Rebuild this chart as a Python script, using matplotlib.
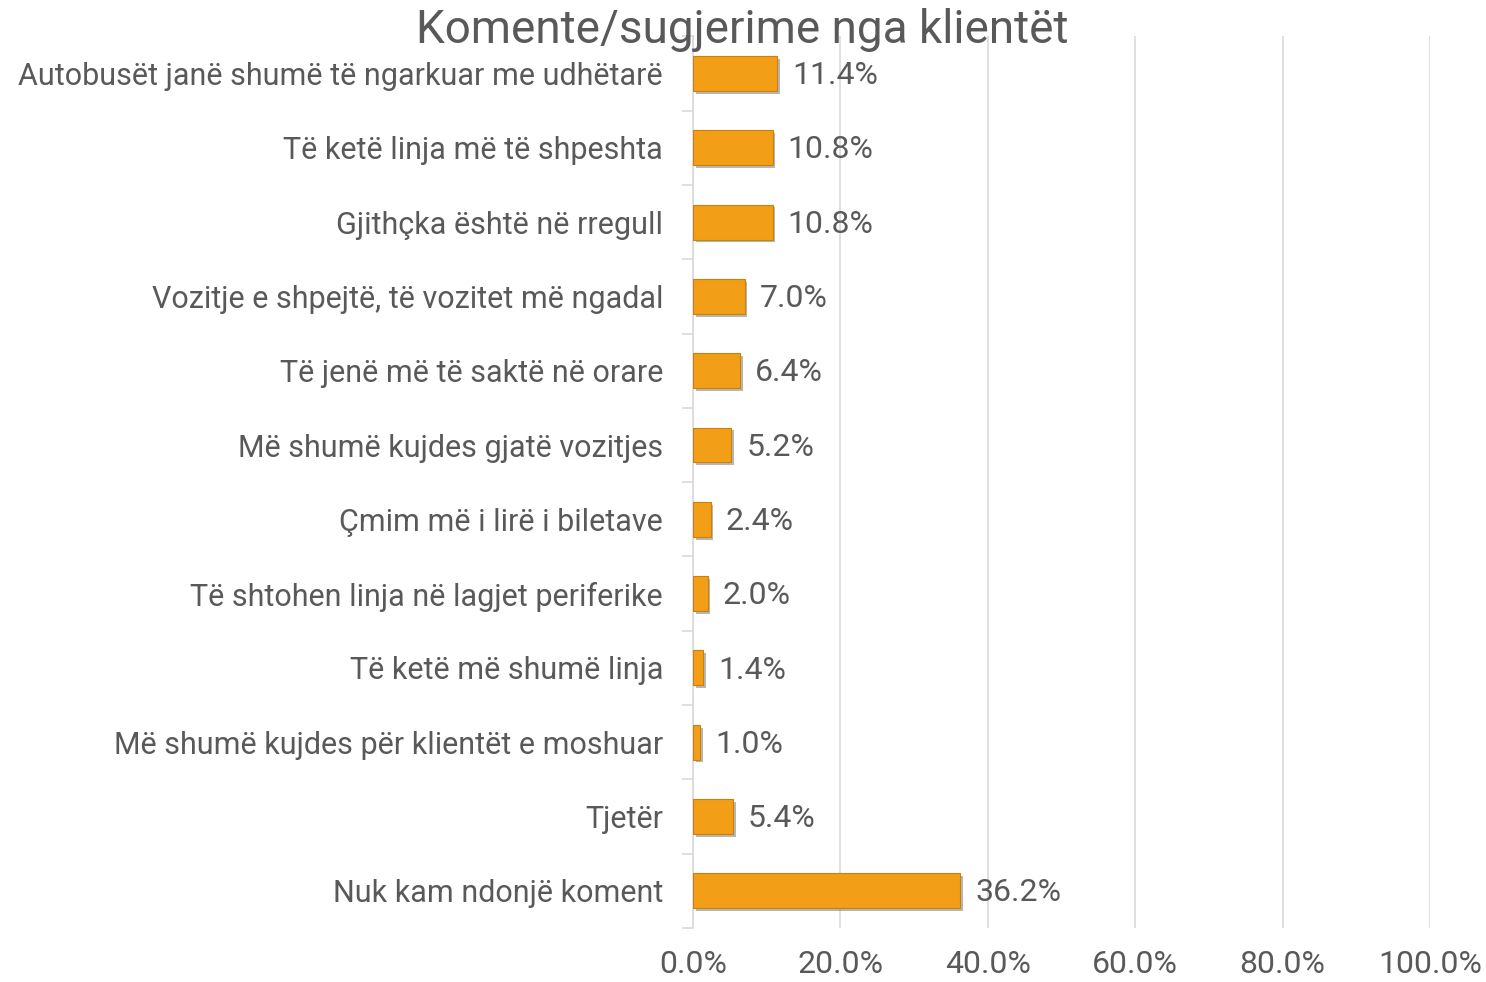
import matplotlib
matplotlib.use("Agg")
import matplotlib.pyplot as plt
import matplotlib.patheffects as pe
from matplotlib.ticker import FuncFormatter, FixedLocator

# data (top to bottom as in the chart)
categories = [
    "Autobusët janë shumë të ngarkuar me udhëtarë",
    "Të ketë linja më të shpeshta",
    "Gjithçka është në rregull",
    "Vozitje e shpejtë, të vozitet më ngadal",
    "Të jenë më të saktë në orare",
    "Më shumë kujdes gjatë vozitjes",
    "Çmim më i lirë i biletave",
    "Të shtohen linja në lagjet periferike",
    "Të ketë më shumë linja",
    "Më shumë kujdes për klientët e moshuar",
    "Tjetër",
    "Nuk kam ndonjë koment",
]
values = [11.4, 10.8, 10.8, 7.0, 6.4, 5.2, 2.4, 2.0, 1.4, 1.0, 5.4, 36.2]
title = "Komente/sugjerime nga klientët"

plt.rcParams['font.family'] = ['Roboto', 'DejaVu Sans']
text_col = '#595959'

fig = plt.figure(figsize=(14.86, 9.82), dpi=100)
ax = fig.add_axes([0.4663, 0.055, 0.496, 0.908])

ypos = list(range(len(categories)))
bars = ax.barh(ypos, values, height=0.47, color='#F29F17', edgecolor='#C9800F', linewidth=0.8,
               zorder=3)
for b in bars:
    b.set_path_effects([pe.SimplePatchShadow(offset=(2, -2), shadow_rgbFace='#888888', alpha=0.6),
                        pe.Normal()])

for y, v in zip(ypos, values):
    ax.annotate(f"{v:.1f}%", (v, y), xytext=(11, -1.5), textcoords='offset points',
                va='center', ha='left', fontsize=23, color=text_col)

ax.set_xlim(0, 100)
ax.set_ylim(len(categories) - 0.5, -0.5)
ax.set_xticks([0, 20, 40, 60, 80, 100])
ax.xaxis.set_major_formatter(FuncFormatter(lambda x, p: f"{x:.1f}%"))
ax.tick_params(axis='x', length=0, labelsize=23, labelcolor=text_col, pad=16)
ax.set_yticks(ypos)
ax.set_yticklabels(categories)
ax.tick_params(axis='y', which='major', length=0, labelsize=22, labelcolor=text_col, pad=21.5)
ax.yaxis.set_minor_locator(FixedLocator([i - 0.5 for i in range(len(categories) + 1)]))
ax.tick_params(axis='y', which='minor', length=8, color='#d9d9d9', width=1.2)

ax.grid(axis='x', color='#d9d9d9', linewidth=1.2, zorder=0)
for s in ['top', 'right', 'bottom']:
    ax.spines[s].set_visible(False)
ax.spines['left'].set_color('#d9d9d9')
ax.spines['left'].set_linewidth(1.2)

fig.text(0.4993, 0.969, title, ha='center', va='center', fontsize=33, color=text_col)

fig.savefig("out.png", dpi=100)
